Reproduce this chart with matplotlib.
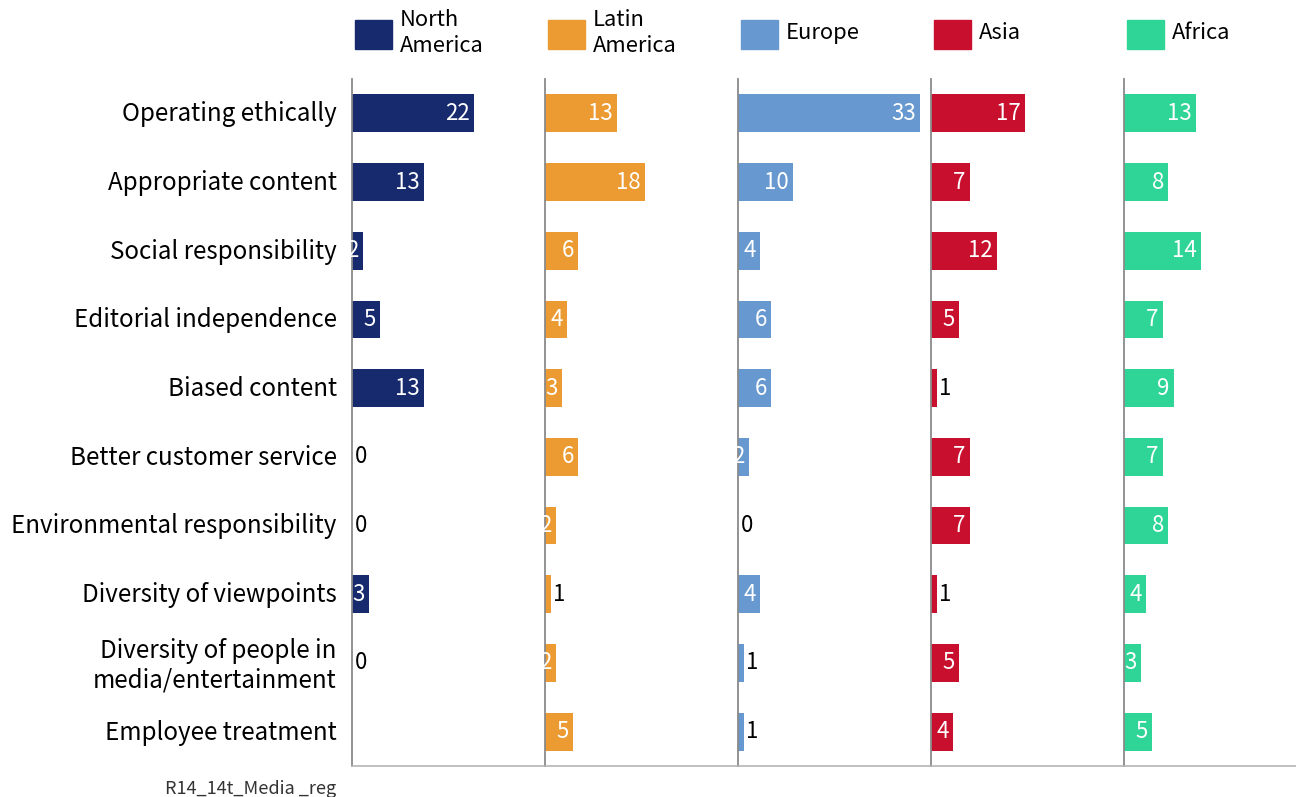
import matplotlib
matplotlib.use("Agg")
import matplotlib.pyplot as plt
from matplotlib.patches import Rectangle
import numpy as np

plt.rcParams['font.family'] = ['Noto Sans CJK KR', 'DejaVu Sans']

categories = ['Operating ethically', 'Appropriate content', 'Social responsibility',
              'Editorial independence', 'Biased content', 'Better customer service',
              'Environmental responsibility', 'Diversity of viewpoints',
              'Diversity of people in\nmedia/entertainment', 'Employee treatment']

regions = ['North\nAmerica', 'Latin\nAmerica', 'Europe', 'Asia', 'Africa']
colors = ['#172a6e', '#eb9b32', '#6799d0', '#c8102e', '#2fd597']

north_america = [22, 13, 2, 5, 13, 0, 0, 3, 0, None]
latin_america = [13, 18, 6, 4, 3, 6, 2, 1, 2, 5]
europe = [33, 10, 4, 6, 6, 2, 0, 4, 1, 1]
asia = [17, 7, 12, 5, 1, 7, 7, 1, 5, 4]
africa = [13, 8, 14, 7, 9, 7, 8, 4, 3, 5]
series = [north_america, latin_america, europe, asia, africa]

W, H = 1296, 797
fig = plt.figure(figsize=(W / 100, H / 100), dpi=100)

x0, panel_w = 352, 193
top, bottom = 79, 766
px_per_unit = 5.53
y = np.arange(len(categories))

for i, (vals, col) in enumerate(zip(series, colors)):
    ax = fig.add_axes([(x0 + i * panel_w) / W, (H - bottom) / H,
                       panel_w / W, (bottom - top) / H])
    ax.set_xlim(0, panel_w / px_per_unit)
    ax.set_ylim(len(categories) - 0.5, -0.5)
    for s in ['top', 'right']:
        ax.spines[s].set_visible(False)
    ax.spines['left'].set_color('#8a8a8a')
    ax.spines['left'].set_linewidth(1.3)
    ax.spines['bottom'].set_color('#b5b5b5')
    ax.spines['bottom'].set_linewidth(1.2)
    ax.set_xticks([])
    if i == 0:
        ax.set_yticks(y - 0.03)
        ax.set_yticklabels(categories, fontsize=17.4, linespacing=1.2)
        ax.tick_params(axis='y', length=0, pad=11)
    else:
        ax.set_yticks([])

    for yi, v in zip(y, vals):
        if v is None:
            continue
        ax.barh(yi, v, height=0.55, color=col)
        if v >= 2:
            ax.annotate(str(v), (v, yi), xytext=(-3, 0), textcoords='offset points',
                        ha='right', va='center', color='white', fontsize=16)
        else:
            ax.annotate(str(v), (v, yi), xytext=(2, 0), textcoords='offset points',
                        ha='left', va='center', color='black', fontsize=16)

    # legend entry above each panel
    lx = x0 + i * panel_w + 3
    fig.add_artist(Rectangle((lx / W, (H - 49) / H), 37 / W, 29 / H,
                             transform=fig.transFigure, color=col))
    fig.text((lx + 45) / W, (H - 33) / H, regions[i], fontsize=15.8,
             ha='left', va='center', linespacing=1.2)

fig.text(336 / W, (H - 789) / H, 'R14_14t_Media _reg', fontsize=13,
         ha='right', va='center', color='#333333')

fig.savefig('out.png', dpi=100)
